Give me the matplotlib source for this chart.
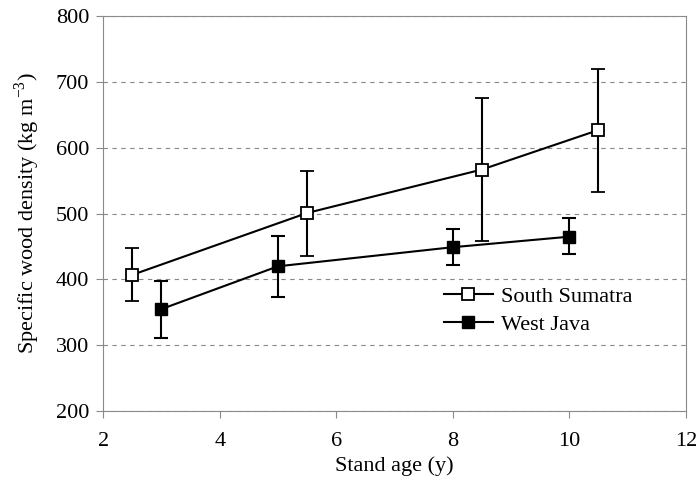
import matplotlib
matplotlib.use("Agg")
import matplotlib.pyplot as plt

# stand age (y), specific wood density (kg m-3), error bar limits
ss_age = [2.5, 5.5, 8.5, 10.5]
ss_dens = [407, 501, 567, 627]
ss_lo = [368, 435, 458, 533]
ss_hi = [448, 565, 675, 720]

wj_age = [3, 5, 8, 10]
wj_dens = [355, 420, 449, 465]
wj_lo = [311, 373, 422, 438]
wj_hi = [398, 466, 476, 493]

AXIS = "#8a8a8a"

plt.rcParams["font.family"] = ["Liberation Serif", "DejaVu Serif"]
plt.rcParams["mathtext.fontset"] = "custom"
plt.rcParams["mathtext.rm"] = "Liberation Serif"

fig = plt.figure(figsize=(6.97, 4.9), dpi=100)
ax = fig.add_axes([0.148, 0.161, 0.836, 0.806])


def errs(vals, lo, hi):
    return [[v - l for v, l in zip(vals, lo)], [h - v for v, h in zip(vals, hi)]]


ax.errorbar(ss_age, ss_dens, yerr=errs(ss_dens, ss_lo, ss_hi), color="black",
            linewidth=1.5, elinewidth=1.5, capsize=5, capthick=1.5,
            marker="s", markersize=8, markerfacecolor="white",
            markeredgecolor="black", markeredgewidth=1.3,
            label="South Sumatra")
ax.errorbar(wj_age, wj_dens, yerr=errs(wj_dens, wj_lo, wj_hi), color="black",
            linewidth=1.5, elinewidth=1.5, capsize=5, capthick=1.5,
            marker="s", markersize=9, markerfacecolor="black",
            markeredgecolor="black", label="West Java")

ax.set_xlim(2, 12)
ax.set_ylim(200, 800)
ax.set_xticks([2, 4, 6, 8, 10, 12])
ax.set_yticks(range(200, 801, 100))
ax.yaxis.grid(True, color="#888888", linestyle=(0, (4, 4)), linewidth=0.8)
ax.set_axisbelow(True)
for s in ax.spines.values():
    s.set_color(AXIS)
ax.tick_params(colors=AXIS, labelcolor="black", labelsize=16, length=5,
               direction="out")
ax.tick_params(axis="x", pad=10)
ax.tick_params(axis="y", pad=5)

ax.set_xlabel("Stand age (y)", fontsize=16, labelpad=4)
ax.set_ylabel(r"Specific wood density (kg m$^{\mathrm{-3}}$)", fontsize=16,
              labelpad=10)

h, l = ax.get_legend_handles_labels()
h = [x[0] for x in h]
ax.legend(h, l, frameon=False, fontsize=16, loc="center left",
          bbox_to_anchor=(0.55, 0.255), handlelength=2.2, handletextpad=0.4,
          labelspacing=0.35)

fig.savefig("out.png", dpi=100)
